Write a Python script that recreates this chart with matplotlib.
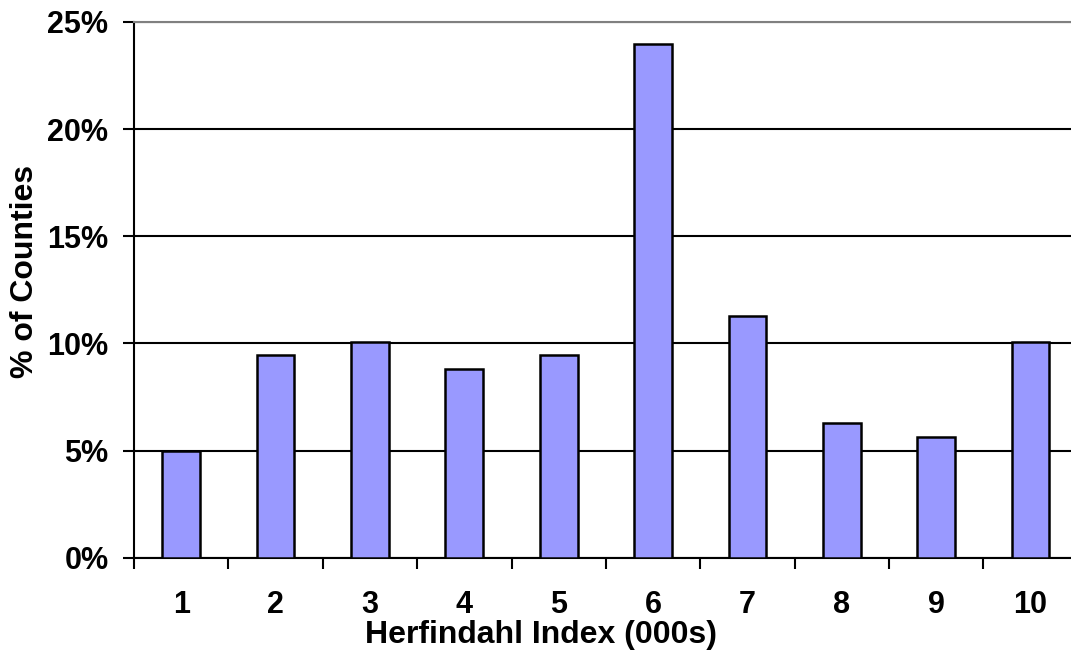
import matplotlib
matplotlib.use("Agg")
import matplotlib.pyplot as plt
from matplotlib.ticker import FuncFormatter, FixedLocator
import numpy as np

# Share of counties by Herfindahl index bucket (thousands)
categories = ["1", "2", "3", "4", "5", "6", "7", "8", "9", "10"]
pct_counties = [5.0, 9.45, 10.05, 8.8, 9.45, 23.95, 11.3, 6.3, 5.65, 10.05]
y_ticks = [0, 5, 10, 15, 20, 25]

plt.rcParams["font.family"] = ["Liberation Sans", "DejaVu Sans"]
plt.rcParams["font.weight"] = "bold"

fig = plt.figure(figsize=(10.71, 6.56), dpi=100)
ax = fig.add_axes([0.1252, 0.1498, 0.8810, 0.8167])

x = np.arange(1, len(categories) + 1)
ax.bar(x, pct_counties, width=0.4, color="#9999FF", edgecolor="black",
       linewidth=1.8, zorder=3)

ax.set_xlim(0.5, len(categories) + 0.5)
ax.set_ylim(0, 25)

# y axis: percent ticks with horizontal gridlines
ax.yaxis.set_major_locator(FixedLocator(y_ticks))
ax.yaxis.set_major_formatter(FuncFormatter(lambda v, _: f"{v:.0f}%"))
ax.set_axisbelow(True)
ax.yaxis.grid(True, color="black", linewidth=1.5)
ax.tick_params(axis="y", direction="out", length=7.7, width=1.5,
               pad=10.8, labelsize=22)

# x axis: ticks at bucket boundaries, labels at bucket centres
ax.xaxis.set_major_locator(FixedLocator(np.arange(0.5, len(categories) + 1.0, 1.0)))
ax.xaxis.set_major_formatter(FuncFormatter(lambda v, _: ""))
ax.set_xticks(x, labels=categories, minor=True)
ax.tick_params(axis="x", which="major", direction="out", length=7.7, width=1.5)
ax.tick_params(axis="x", which="minor", length=0, pad=23.5, labelsize=22)

for spine in ("left", "bottom"):
    ax.spines[spine].set_color("black")
    ax.spines[spine].set_linewidth(1.5)
ax.spines["top"].set_color("#808080")
ax.spines["top"].set_linewidth(1.5)
ax.spines["right"].set_visible(False)

ax.set_xlabel("Herfindahl Index (000s)", fontsize=23, fontweight="bold")
ax.xaxis.set_label_coords(0.431, -0.145)
ax.xaxis.label.set_va("center")
ax.set_ylabel("% of Counties", fontsize=23, fontweight="bold")
ax.yaxis.set_label_coords(-0.1156, 0.534)
ax.yaxis.label.set_va("center")

fig.savefig("out.png", dpi=100, facecolor="white")
